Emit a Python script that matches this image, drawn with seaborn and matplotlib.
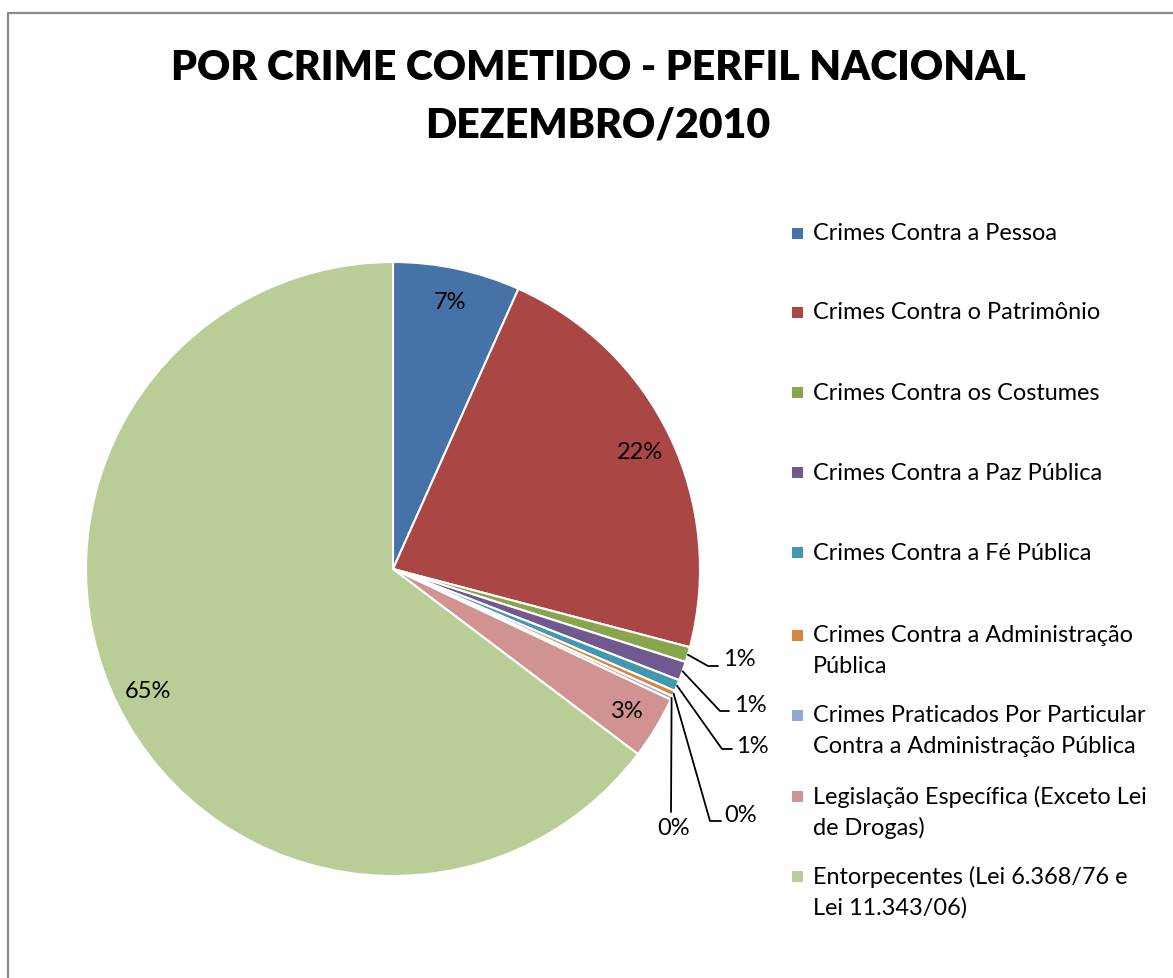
import numpy as np
import matplotlib.pyplot as plt
import seaborn as sns
from matplotlib.patches import Rectangle

# dados (percentuais)
categorias = [
    'Crimes Contra a Pessoa',
    'Crimes Contra o Patrimônio',
    'Crimes Contra os Costumes',
    'Crimes Contra a Paz Pública',
    'Crimes Contra a Fé Pública',
    'Crimes Contra a Administração\nPública',
    'Crimes Praticados Por Particular\nContra a Administração Pública',
    'Legislação Específica (Exceto Lei\nde Drogas)',
    'Entorpecentes (Lei 6.368/76 e\nLei 11.343/06)',
]
percentuais = [6.7, 22.4, 0.8, 1.0, 0.6, 0.3, 0.2, 3.3, 64.7]
cores = ['#4572A7', '#AA4643', '#89A54E', '#71588F', '#4198AF',
         '#DB843D', '#93A9CF', '#D19392', '#B9CD96']

sns.set_style('white')
plt.rcParams['font.family'] = ['Lato', 'DejaVu Sans']
plt.rcParams['text.color'] = 'black'

W, H = 1173, 979
fig = plt.figure(figsize=(W / 100, H / 100), dpi=100)
fig.patch.set_facecolor('white')

# moldura cinza
fig.patches.append(Rectangle((8 / W, -0.01), 1.2, 1 - 14 / H + 0.01, transform=fig.transFigure,
                             fill=False, edgecolor='#8a8a8a', linewidth=1.6))

# pizza
cx, cy, R = 393, 570, 307
ax = fig.add_axes([(cx - R) / W, (H - cy - R) / H, 2 * R / W, 2 * R / H])
wedges, _ = ax.pie(percentuais, colors=sns.color_palette(cores), startangle=90,
                   counterclock=False, radius=1,
                   wedgeprops=dict(edgecolor='white', linewidth=1.5))
ax.set_xlim(-1, 1)
ax.set_ylim(-1, 1)
ax.set_aspect('equal')
ax.axis('off')


def to_data(px, py):
    return (px - cx) / R, (cy - py) / R


# rótulos das fatias pequenas: (cotovelo, fim da linha, posição do texto, alinhamento)
small_layout = {
    2: ((708, 667), (718, 667), (723, 660), 'left'),
    3: ((720, 712), (729, 712), (734, 706), 'left'),
    4: ((722, 750), (732, 750), (736, 747), 'left'),
    5: ((710, 822), (721, 822), (724, 816), 'left'),
    6: ((671, 813), (671, 813), (674, 829), 'center'),
}

for i, (w, p) in enumerate(zip(wedges, percentuais)):
    mid = np.deg2rad((w.theta1 + w.theta2) / 2)
    txt = f'{round(p):.0f}%'
    if i in small_layout:
        elbow, end, tpos, ha = small_layout[i]
        x0, y0 = np.cos(mid), np.sin(mid)
        ex, ey = to_data(*elbow)
        fx, fy = to_data(*end)
        ax.plot([x0, ex, fx], [y0, ey, fy], color='black', lw=1.3, clip_on=False)
        fig.text(tpos[0] / W, 1 - tpos[1] / H, txt, ha=ha, va='center', fontsize=17)
    else:
        r = 0.89
        ax.text(r * np.cos(mid), r * np.sin(mid), txt, ha='center', va='center', fontsize=17)

# título
fig.text(598 / W, 1 - 68 / H, 'POR CRIME COMETIDO - PERFIL NACIONAL', ha='center', va='center',
         fontsize=29.5, fontweight='heavy')
fig.text(598 / W, 1 - 126 / H, 'DEZEMBRO/2010', ha='center', va='center',
         fontsize=29.5, fontweight='heavy')

# legenda manual
leg_y = [234, 313, 393, 473, 553, 636, 716, 797, 877]
for lab, cor, y in zip(categorias, cores, leg_y):
    fig.patches.append(Rectangle(((792) / W, 1 - (y + 5.5) / H), 11 / W, 11 / H,
                                 transform=fig.transFigure, facecolor=cor, edgecolor='none'))
    for k, linha in enumerate(lab.split('\n')):
        fig.text(813 / W, 1 - (y + 31 * k) / H, linha, ha='left', va='center', fontsize=16.9)

plt.savefig('out.png', dpi=100)
plt.close()
